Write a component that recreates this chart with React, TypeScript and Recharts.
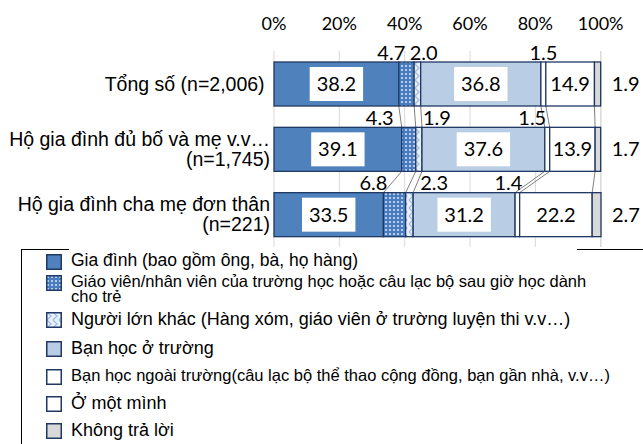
import React from "react";
import { BarChart, Bar, XAxis, YAxis, CartesianGrid, LabelList, Legend } from "recharts";

if (typeof document !== "undefined") document.body.style.margin = "0";

// ---------- data ----------
const categories = [
  "Tổng số (n=2,006) ",
  "Hộ gia đình đủ bố và mẹ v.v…\n(n=1,745)",
  "Hộ gia đình cha mẹ đơn thân\n(n=221)",
];
const seriesNames = [
  "Gia đình (bao gồm ông, bà, họ hàng)",
  "Giáo viên/nhân viên của trường học hoặc câu lạc bộ sau giờ học dành\ncho trẻ",
  "Người lớn khác (Hàng xóm, giáo viên ở trường luyện thi v.v…)",
  "Bạn học ở trường",
  "Bạn học ngoài trường(câu lạc bộ thể thao cộng đồng, bạn gần nhà, v.v…)",
  "Ở một mình",
  "Không trả lời",
];
const giaDinh = [38.2, 39.1, 33.5];
const giaoVien = [4.7, 4.3, 6.8];
const nguoiLonKhac = [2.0, 1.9, 2.3];
const banTruong = [36.8, 37.6, 31.2];
const banNgoai = [1.5, 1.5, 1.4];
const motMinh = [14.9, 13.9, 22.2];
const khongTraLoi = [1.9, 1.7, 2.7];
const xTicks = [0, 20, 40, 60, 80, 100];

const seriesValues = [giaDinh, giaoVien, nguoiLonKhac, banTruong, banNgoai, motMinh, khongTraLoi];
const data = categories.map((name, i) => {
  const row: any = { name };
  seriesValues.forEach((arr, s) => (row[`s${s}`] = arr[i]));
  return row;
});

// ---------- layout / style ----------
const W = 643;
const H = 444;
const PLOT_TOP = 51;
const PLOT_BOTTOM = 247;
const AXIS_H = 30;
const BAND = (PLOT_BOTTOM - PLOT_TOP) / categories.length;
const STROKE = "#1F3864";
const FILLS = ["#4F81BD", "url(#pDots)", "url(#pZig)", "#B9CDE5", "#FFFFFF", "#FFFFFF", "#D9D9D9"];
const NUM_FONT = "Lato, 'Open Sans', sans-serif";
const TXT_FONT = "'Liberation Sans', Arial, sans-serif";
// small offsets for the little outside labels (relative to computed anchor)
const LABEL_NUDGE: Record<number, number[]> = { 1: [6.5, -8, 4], 2: [-11, 1, 7], 4: [0, -15, -9] };

const cumTo = (row: number, s: number) => {
  let t = 0;
  for (let k = 0; k <= s; k++) t += seriesValues[k][row];
  return t;
};

const makeShape = (s: number) => (props: any) => {
  const { x, y, width, height, index } = props;
  const v = seriesValues[s][index];
  let line: any = null;
  if (index < categories.length - 1 && s < seriesValues.length - 1 && v > 0) {
    const ppu = width / v;
    const origin = x + width - cumTo(index, s) * ppu;
    const nx = origin + cumTo(index + 1, s) * ppu;
    line = (
      <line x1={x + width} y1={y + height} x2={nx} y2={y + BAND} stroke="#808080" strokeWidth={1} />
    );
  }
  return (
    <g>
      <rect x={x} y={y} width={width} height={height} fill={FILLS[s]} stroke={STROKE} strokeWidth={1.3} />
      {line}
    </g>
  );
};

const textW = (str: string) => {
  let w = 0;
  for (const c of str) w += c === "." ? 4.6 : 11.6;
  return w;
};

const makeLabel = (s: number) => (props: any) => {
  const { x, y, width, height, value, index } = props;
  const v = Number(value);
  const str = v.toFixed(1);
  const cy = y + height / 2;
  if (v >= 10) {
    const bw = Math.min(textW(str) + 14, width - 4);
    const bh = 34;
    const cx = x + width / 2;
    return (
      <g>
        <rect x={cx - bw / 2} y={cy - bh / 2} width={bw} height={bh} fill="#FFFFFF" />
        <text x={cx} y={cy + 7} textAnchor="middle" fontFamily={NUM_FONT} fontSize={20} fill="#000">
          {str}
        </text>
      </g>
    );
  }
  if (s === 6) {
    return (
      <text x={x + width + 11} y={cy + 7} textAnchor="start" fontFamily={NUM_FONT} fontSize={20} fill="#000">
        {str}
      </text>
    );
  }
  const nudge = (LABEL_NUDGE[s] || [0, 0, 0])[index] || 0;
  let ax = x + width / 2 + nudge;
  let anchor: any = "middle";
  if (s === 1) {
    ax = x + nudge;
    anchor = "end";
  } else if (s === 2) {
    ax = x + width + nudge;
    anchor = "start";
  }
  return (
    <text x={ax} y={y - 2.5} textAnchor={anchor} fontFamily={NUM_FONT} fontSize={20} fill="#000">
      {str}
    </text>
  );
};

const XTick = (props: any) => {
  const { x, y, payload } = props;
  return (
    <text x={x} y={y - 21} textAnchor="middle" fontFamily={NUM_FONT} fontSize={18} fill="#000">
      {`${payload.value}%`}
    </text>
  );
};

const YTick = (props: any) => {
  const { x, y, payload } = props;
  const lines = String(payload.value).split("\n");
  if (lines.length === 1) {
    return (
      <text x={x} y={y + 7} textAnchor="end" fontFamily={TXT_FONT} fontSize={19.5} fill="#000" style={{ whiteSpace: "pre" }}>
        {lines[0]}
      </text>
    );
  }
  return (
    <text textAnchor="end" fontFamily={TXT_FONT} fontSize={19.5} fill="#000">
      <tspan x={x} y={y - 3}>{lines[0]}</tspan>
      <tspan x={x} y={y + 17}>{lines[1]}</tspan>
    </text>
  );
};

const LegendIcon = ({ s }: { s: number }) => (
  <svg width={16} height={16} style={{ display: "block" }}>
    <rect x={0.75} y={0.75} width={14.5} height={14.5} fill={FILLS[s]} stroke={STROKE} strokeWidth={1.5} />
  </svg>
);

const LEGEND_ROWS = [2, 23, 60, 89, 117, 144, 171];
const LEGEND_SIZES = [17.5, 16.5, 18, 18, 16.5, 18, 18];

const renderLegend = () => (
  <div style={{ position: "relative", width: 630, height: 200, borderLeft: "1px solid #000", fontFamily: TXT_FONT, color: "#000" }}>
    <div style={{ position: "absolute", left: 0, top: 0, width: 47, height: 1, background: "#000" }} />
    <div style={{ position: "absolute", left: 555, top: 0, width: 80, height: 1, background: "#000" }} />
    {seriesNames.map((name, s) => (
      <div key={s} style={{ position: "absolute", left: 24, top: LEGEND_ROWS[s], display: "flex", alignItems: "flex-start" }}>
        <div style={{ marginTop: 3 }}>
          <LegendIcon s={s} />
        </div>
        <div style={{ marginLeft: 9, fontSize: LEGEND_SIZES[s], lineHeight: `${LEGEND_SIZES[s] - 2}px`, whiteSpace: "pre", paddingTop: 2 }}>
          {name}
        </div>
      </div>
    ))}
  </div>
);

export default function App() {
  return (
    <div style={{ position: "relative", width: W, height: H, background: "#fff" }}>
      <svg width={0} height={0} style={{ position: "absolute" }}>
        <defs>
          <pattern id="pDots" patternUnits="userSpaceOnUse" width={4} height={4}>
            <rect width={4} height={4} fill="#4A7CC0" />
            <circle cx={2} cy={2} r={1} fill="#DCE7F5" />
          </pattern>
          <pattern id="pZig" patternUnits="userSpaceOnUse" width={6} height={8}>
            <rect width={6} height={8} fill="#EAF0F8" />
            <path d="M1 0 L5 4 L1 8" stroke="#9DBAE0" strokeWidth={1.2} fill="none" />
          </pattern>
        </defs>
      </svg>
      <BarChart
        width={W}
        height={H}
        data={data}
        layout="vertical"
        margin={{ top: PLOT_TOP - AXIS_H, right: 42, bottom: H - PLOT_BOTTOM, left: 0 }}
      >
        <CartesianGrid horizontal={false} stroke="#D9D9D9" strokeWidth={1} />
        <XAxis
          type="number"
          orientation="top"
          domain={[0, 100]}
          ticks={xTicks}
          height={AXIS_H}
          axisLine={false}
          tickLine={false}
          tickSize={0}
          tickMargin={0}
          tick={<XTick />}
          interval={0}
        />
        <YAxis
          type="category"
          dataKey="name"
          width={274}
          axisLine={false}
          tickLine={false}
          tickSize={0}
          tickMargin={4}
          tick={<YTick />}
          interval={0}
        />
        <Legend
          layout="vertical"
          align="center"
          verticalAlign="middle"
          content={renderLegend}
          wrapperStyle={{ position: "absolute", left: 21, top: 249, width: 630, height: 200 }}
        />
        {seriesValues.map((_, s) => (
          <Bar
            key={s}
            dataKey={`s${s}`}
            name={seriesNames[s]}
            stackId="a"
            barSize={44}
            fill={FILLS[s]}
            isAnimationActive={false}
            shape={makeShape(s)}
          >
            <LabelList dataKey={`s${s}`} content={makeLabel(s)} />
          </Bar>
        ))}
      </BarChart>
    </div>
  );
}
